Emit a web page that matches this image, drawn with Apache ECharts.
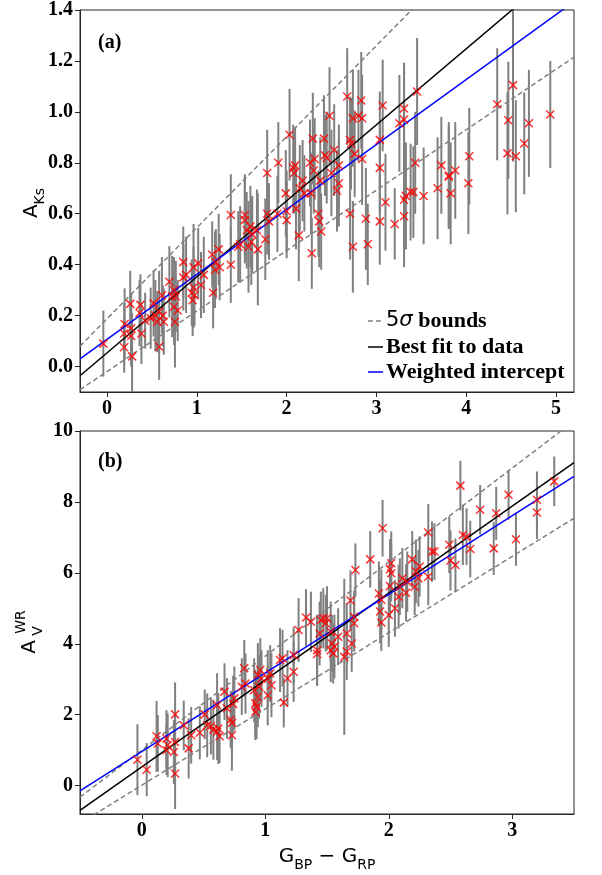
<!DOCTYPE html>
<html><head><meta charset="utf-8">
<script src="https://cdn.jsdelivr.net/npm/echarts@6/dist/echarts.min.js"></script>
<style>html,body{margin:0;padding:0;background:#fff}#c{width:602px;height:875px}</style>
</head><body><div id="c"></div>
<script>
// Panel (a): [G_BP-G_RP, A_Ks, error]
const aPoints = [
[-0.04,0.09,0.13],
[0.197,0.167,0.14],[0.192,0.13,0.12],[0.192,0.076,0.10],[0.259,0.246,0.13],[0.27,0.15,0.14],[0.27,0.12,0.12],[0.28,0.04,0.17],
[0.373,0.242,0.12],[0.363,0.21,0.13],[0.384,0.13,0.12],[0.425,0.18,0.11],[0.487,0.19,0.12],[0.519,0.248,0.13],[0.539,0.20,0.14],[0.56,0.176,0.12],[0.581,0.216,0.16],[0.581,0.078,0.13],[0.612,0.28,0.15],[0.622,0.20,0.12],[0.633,0.176,0.13],
[0.695,0.333,0.14],[0.726,0.275,0.16],[0.747,0.30,0.13],[0.747,0.235,0.15],[0.757,0.176,0.18],[0.767,0.275,0.14],[0.788,0.22,0.12],
[0.85,0.41,0.14],[0.85,0.35,0.13],[0.881,0.36,0.15],[0.944,0.29,0.13],[0.954,0.26,0.14],[0.964,0.31,0.16],[0.964,0.39,0.17],[0.975,0.28,0.12],[1.016,0.405,0.14],[1.047,0.32,0.13],[1.078,0.36,0.15],
[1.172,0.44,0.13],[1.182,0.29,0.14],[1.203,0.38,0.15],[1.213,0.41,0.13],[1.244,0.46,0.14],[1.255,0.39,0.13],
[1.379,0.595,0.16],[1.379,0.40,0.15],[1.462,0.47,0.14],[1.483,0.48,0.15],[1.535,0.595,0.16],[1.535,0.575,0.17],[1.556,0.535,0.15],[1.576,0.47,0.18],[1.597,0.55,0.16],[1.607,0.49,0.17],[1.618,0.52,0.15],[1.68,0.46,0.22],[1.67,0.535,0.16],[1.763,0.50,0.16],[1.784,0.76,0.17],[1.784,0.60,0.16],[1.804,0.57,0.15],
[1.908,0.80,0.16],[1.898,0.60,0.15],[1.991,0.68,0.17],[2.001,0.61,0.16],[2.001,0.575,0.15],[2.033,0.91,0.18],[2.074,0.78,0.17],[2.084,0.76,0.16],[2.095,0.79,0.15],[2.105,0.62,0.16],[2.136,0.515,0.18],[2.147,0.70,0.17],[2.178,0.73,0.16],[2.198,0.68,0.15],
[2.261,0.80,0.17],[2.271,0.68,0.16],[2.281,0.445,0.14],[2.292,0.895,0.18],[2.302,0.77,0.17],[2.313,0.815,0.16],[2.354,0.60,0.17],[2.364,0.57,0.18],[2.375,0.73,0.17],[2.385,0.53,0.15],[2.416,0.895,0.17],[2.427,0.83,0.16],[2.447,0.82,0.18],[2.478,0.985,0.19],[2.499,0.76,0.17],[2.53,0.85,0.18],[2.561,0.69,0.16],[2.582,0.72,0.17],[2.582,0.79,0.16],
[2.675,1.06,0.19],[2.707,0.60,0.18],[2.707,0.89,0.17],[2.717,0.875,0.18],[2.738,0.975,0.19],[2.738,0.47,0.18],[2.758,0.835,0.17],[2.80,0.985,0.18],[2.831,1.045,0.19],[2.841,0.815,0.18],[2.841,0.975,0.17],[2.883,0.58,0.20],[2.904,0.48,0.16],
[3.038,0.89,0.19],[3.038,0.78,0.18],[3.038,0.57,0.17],[3.07,1.025,0.18],[3.101,0.645,0.19],[3.204,0.56,0.14],[3.256,0.955,0.19],[3.308,0.97,0.20],[3.308,1.013,0.18],[3.308,0.655,0.19],[3.308,0.59,0.20],[3.329,0.67,0.21],[3.381,0.685,0.19],[3.412,0.685,0.18],[3.432,0.80,0.20],[3.453,1.08,0.21],[3.526,0.67,0.19],
[3.681,0.70,0.20],[3.723,0.79,0.19],[3.806,0.75,0.21],[3.806,0.745,0.20],[3.827,0.68,0.20],[3.878,0.77,0.19],[4.024,0.72,0.20],[4.034,0.826,0.19],
[4.345,1.03,0.22],[4.459,0.837,0.24],[4.469,0.967,0.23],[4.521,1.105,0.30],[4.552,0.826,0.22],[4.646,0.876,0.20],[4.698,0.955,0.21],[4.936,0.99,0.21]
];
// Panel (b): [G_BP-G_RP, A_V^WR, error]
const bPoints = [
[-0.035,0.73,1.0],[0.04,0.45,0.75],[0.12,1.39,1.0],[0.13,1.19,0.8],[0.20,1.33,0.8],[0.21,1.14,0.9],[0.20,1.0,0.7],[0.26,0.95,0.9],[0.27,2.01,0.9],[0.27,1.23,0.8],[0.27,0.34,1.0],[0.34,1.70,0.7],[0.38,1.05,0.85],[0.40,1.42,0.8],[0.47,1.49,0.75],[0.51,2.01,0.7],[0.53,1.70,0.9],[0.56,1.68,0.8],[0.58,1.58,0.85],[0.61,2.27,0.9],[0.61,1.52,0.8],[0.62,1.61,1.0],[0.63,1.39,0.75],[0.67,2.65,0.8],[0.69,2.18,0.85],[0.72,1.86,0.8],[0.73,1.77,0.9],[0.73,1.42,1.0],[0.74,2.30,0.8],[0.75,2.46,0.9],
[0.81,2.79,0.8],[0.83,3.31,0.8],[0.84,2.88,0.85],[0.91,2.69,0.9],[0.92,2.32,0.95],[0.92,2.08,0.8],[0.93,2.22,0.9],[0.94,3.12,0.9],[0.94,2.50,0.85],[0.95,2.79,0.9],[0.96,3.26,0.9],[0.97,3.02,0.8],[1.02,3.02,0.8],[1.02,2.55,0.85],[1.04,3.16,0.8],[1.05,2.83,0.9],[1.12,3.54,0.9],[1.14,3.59,0.8],[1.15,2.34,0.7],[1.18,3.02,0.8],[1.23,3.21,0.85],[1.23,3.68,0.8],[1.27,4.39,0.9],[1.33,4.74,0.8],[1.37,4.62,0.85],
[1.42,3.82,1.0],[1.42,3.71,0.9],[1.44,4.29,0.9],[1.45,4.67,0.8],[1.47,4.72,0.85],[1.49,4.58,0.8],[1.50,4.72,0.9],[1.53,4.34,0.85],[1.53,3.82,0.9],[1.54,4.01,0.8],[1.55,3.73,0.85],[1.56,3.92,0.9],[1.59,4.20,0.8],[1.64,3.63,2.2],[1.66,3.78,0.8],[1.66,4.29,0.85],[1.69,5.22,0.85],[1.70,4.01,0.8],[1.72,4.76,0.75],[1.72,4.58,0.8],[1.73,6.08,0.75],
[1.85,6.38,0.8],[1.92,5.42,0.9],[1.93,4.91,0.9],[1.94,5.24,0.85],[1.94,4.60,0.8],[1.95,7.26,0.8],[2.00,4.81,0.9],[2.01,5.63,0.9],[2.01,6.10,0.85],[2.02,5.99,0.8],[2.02,6.27,0.9],[2.05,5.0,0.8],[2.08,5.33,0.9],[2.09,5.61,0.8],[2.11,5.85,0.85],[2.14,5.44,0.8],[2.15,5.75,0.85],[2.19,6.38,0.8],[2.21,5.61,0.8],[2.22,6.04,0.9],[2.24,5.85,0.8],[2.25,6.18,0.85],
[2.32,5.89,0.8],[2.32,7.14,0.8],[2.35,6.60,0.85],[2.37,6.60,0.8],[2.49,6.79,0.8],[2.50,6.35,0.85],[2.54,6.22,0.75],[2.58,8.46,0.7],[2.60,7.07,0.85],[2.63,7.02,0.8],[2.66,6.67,0.8],[2.74,7.78,0.7],[2.85,6.69,0.75],[2.87,7.68,0.75],[2.97,8.20,0.7],[3.03,6.95,0.75],[3.20,8.06,0.8],[3.20,7.70,0.75],[3.34,8.58,0.7]
];
// Fit lines (endpoints at the axis limits)
const aBestFit = [[-0.3,-0.036],[5.2,1.606]];
const aWeighted = [[-0.3,0.030],[5.2,1.433]];
const aUpper = [[-0.3,0.080],[5.2,2.047]];
const aLower = [[-0.3,-0.091],[5.2,1.215]];
const bBestFit = [[-0.5,-0.70],[3.5,9.11]];
const bWeighted = [[-0.5,-0.15],[3.5,8.72]];
const bUpper = [[-0.5,-0.326],[3.5,10.28]];
const bLower = [[-0.5,-1.065],[3.5,7.54]];
// Tick values
const aXTicks = [0,1,2,3,4,5];
const aYTicks = [0.0,0.2,0.4,0.6,0.8,1.0,1.2,1.4];
const bXTicks = [0,1,2,3];
const bYTicks = [0,2,4,6,8,10];

const SERIF = '"Liberation Serif","Times New Roman",serif';
const SANS = '"DejaVu Sans",sans-serif';
const AXC = '#262626';

function xAx(grid, min, max, ticks) {
  return {type:'value', gridIndex:grid, min:min, max:max,
    axisLine:{show:true,onZero:false,lineStyle:{color:AXC,width:1}},
    axisTick:{show:true,length:5,customValues:ticks,lineStyle:{color:AXC,width:1}},
    axisLabel:{customValues:ticks,fontFamily:SERIF,fontWeight:'bold',fontSize:20,color:'#000',margin:7,
      formatter:v=>String(v)},
    splitLine:{show:false}};
}
function yAx(grid, min, max, ticks, dec) {
  return {type:'value', gridIndex:grid, min:min, max:max,
    axisLine:{show:true,onZero:false,lineStyle:{color:AXC,width:1}},
    axisTick:{show:true,length:5,customValues:ticks,lineStyle:{color:AXC,width:1}},
    axisLabel:{customValues:ticks,fontFamily:SERIF,fontWeight:'bold',fontSize:20,color:'#000',margin:7,
      formatter:v=>v.toFixed(dec)},
    splitLine:{show:false}};
}
function errSeries(idx, pts) {
  return {type:'custom', xAxisIndex:idx, yAxisIndex:idx, data:pts, clip:true, z:1, silent:true,
    renderItem:(params, api)=>{
      const x=api.value(0), y=api.value(1), e=api.value(2);
      const p1=api.coord([x,y-e]), p2=api.coord([x,y+e]);
      return {type:'line', shape:{x1:p1[0],y1:p1[1],x2:p2[0],y2:p2[1]}, style:{stroke:'#808080',lineWidth:2}};
    }};
}
function lineSeries(idx, data, color, type) {
  return {type:'line', xAxisIndex:idx, yAxisIndex:idx, data:data, symbol:'none', z:3, clip:true, silent:true,
    lineStyle:{color:color,width:1.5,type:type||'solid'}};
}
function markSeries(idx, pts) {
  return {type:'scatter', xAxisIndex:idx, yAxisIndex:idx, data:pts.map(p=>[p[0],p[1]]), z:5, silent:true,
    symbol:'path://M0,0L10,10M10,0L0,10', symbolSize:8,
    itemStyle:{color:'#ff0000',borderColor:'#ff0000',borderWidth:1.5}};
}
const dash = [5,3];
const chart = echarts.init(document.getElementById('c'), null, {renderer:'canvas'});
chart.setOption({
  animation:false,
  backgroundColor:'#fff',
  grid:[{left:80,top:10,width:494,height:382,show:true,borderColor:AXC,borderWidth:1,backgroundColor:'transparent'},
        {left:80,top:431,width:494,height:383,show:true,borderColor:AXC,borderWidth:1,backgroundColor:'transparent'}],
  xAxis:[xAx(0,-0.3,5.2,aXTicks), xAx(1,-0.5,3.5,bXTicks)],
  yAxis:[yAx(0,-0.1,1.4,aYTicks,1), yAx(1,-0.8,10,bYTicks,0)],
  series:[
    errSeries(0,aPoints),
    lineSeries(0,aUpper,'#808080',dash), lineSeries(0,aLower,'#808080',dash),
    lineSeries(0,aBestFit,'#000000'), lineSeries(0,aWeighted,'#0000ff'),
    markSeries(0,aPoints),
    errSeries(1,bPoints),
    lineSeries(1,bUpper,'#808080',dash), lineSeries(1,bLower,'#808080',dash),
    lineSeries(1,bBestFit,'#000000'), lineSeries(1,bWeighted,'#0000ff'),
    markSeries(1,bPoints)
  ],
  graphic:[
    {type:'text', left:98, top:33, z:10, style:{text:'(a)', font:'bold 20px '+SERIF, fill:'#000'}},
    {type:'text', left:98, top:452, z:10, style:{text:'(b)', font:'bold 20px '+SERIF, fill:'#000'}},
    // legend
    {type:'line', z:10, shape:{x1:368,y1:321,x2:383,y2:321}, style:{stroke:'#808080',lineWidth:1.5,lineDash:[5,3]}},
    {type:'line', z:10, shape:{x1:368,y1:347,x2:383,y2:347}, style:{stroke:'#000',lineWidth:1.5}},
    {type:'line', z:10, shape:{x1:368,y1:372,x2:383,y2:372}, style:{stroke:'#0000ff',lineWidth:1.5}},
    {type:'text', z:10, x:386, y:321, style:{text:'{s|5}{i|σ}{b| bounds}', verticalAlign:'middle', align:'left',
      rich:{s:{fontFamily:SANS,fontSize:21,fill:'#000'}, i:{fontFamily:SANS,fontStyle:'italic',fontSize:21,fill:'#000'}, b:{fontFamily:SERIF,fontWeight:'bold',fontSize:22,fill:'#000'}}}},
    {type:'text', z:10, x:386, y:347, style:{text:'Best fit to data', verticalAlign:'middle', align:'left', font:'bold 22px '+SERIF, fill:'#000'}},
    {type:'text', z:10, x:386, y:372, style:{text:'Weighted intercept', verticalAlign:'middle', align:'left', font:'bold 22px '+SERIF, fill:'#000'}},
    // y-axis titles
    {type:'text', z:10, x:32, y:203, rotation:Math.PI/2, style:{text:'{m|A}{s|Ks}', align:'center', verticalAlign:'middle',
      rich:{m:{fontFamily:SANS,fontSize:20,lineHeight:30,verticalAlign:'middle',fill:'#000'}, s:{fontFamily:SANS,fontSize:14,lineHeight:14,verticalAlign:'bottom',fill:'#000'}}}},
    {type:'text', z:10, x:30, y:647, rotation:Math.PI/2, style:{text:'A', align:'center', verticalAlign:'middle', font:'20px '+SANS, fill:'#000'}},
    {type:'text', z:10, x:38, y:631, rotation:Math.PI/2, style:{text:'V', align:'center', verticalAlign:'middle', font:'14px '+SANS, fill:'#000'}},
    {type:'text', z:10, x:21, y:622, rotation:Math.PI/2, style:{text:'WR', align:'center', verticalAlign:'middle', font:'14px '+SANS, fill:'#000'}},
    // x-axis title
    {type:'text', z:10, x:327, y:857, style:{text:'{m|G}{s|BP}{m| − G}{s|RP}', align:'center', verticalAlign:'middle',
      rich:{m:{fontFamily:SANS,fontSize:20,lineHeight:30,verticalAlign:'middle',fill:'#000'}, s:{fontFamily:SANS,fontSize:14,lineHeight:14,verticalAlign:'bottom',fill:'#000'}}}}
  ]
});
</script></body></html>
